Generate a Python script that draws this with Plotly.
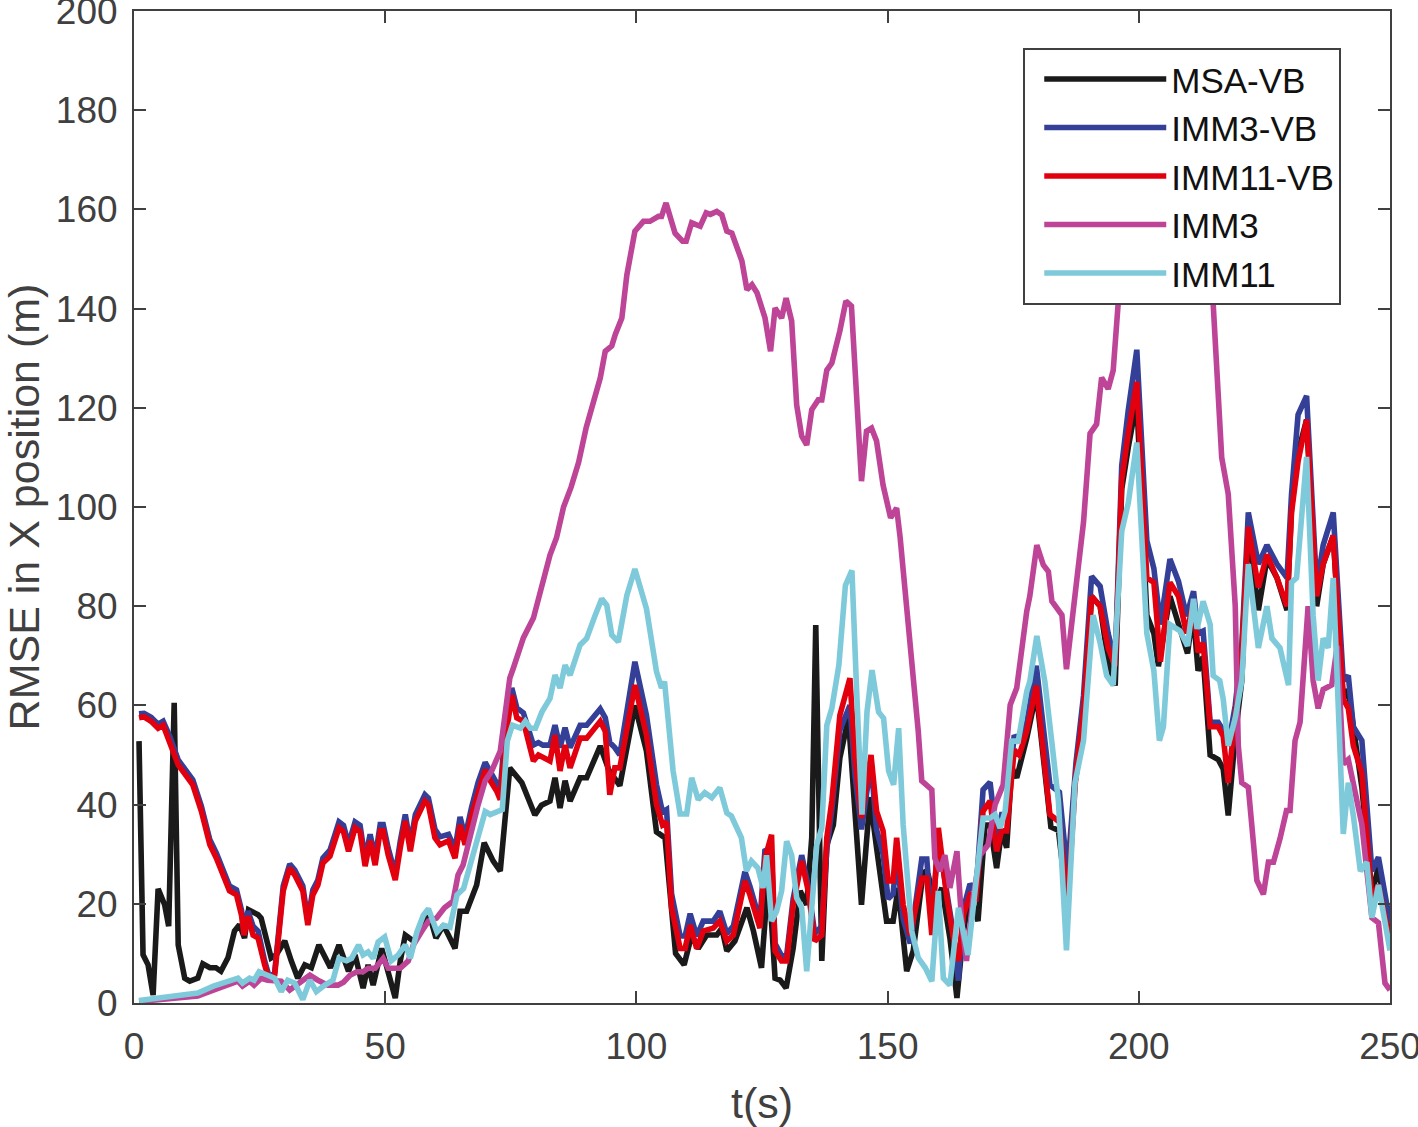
import plotly.graph_objects as go

# RMSE in X position vs time, five filters
# values (vertices of each polyline)

# MSA-VB
t_msa = [1, 1.8, 2.8, 3.8, 4.8, 6.1, 6.9, 8, 8.8, 10.1,
         11.1, 12.7, 13.7, 15.1, 16.3, 17.3, 18.7, 20, 21, 22,
         22.8, 24.7, 25.3, 27.3, 28.3, 30, 31.3, 32.6, 34, 35.3,
         36.8, 38, 39.1, 40.8, 42.7, 44, 45.6, 46.6, 47.6, 49.3,
         50.6, 52, 53, 54, 55.6, 57, 58.6, 60.1, 61.6, 63.9,
         64.9, 66.2, 68.2, 69.7, 71.5, 72.9, 74.8, 77.2, 79.8, 81.1,
         82.8, 83.8, 84.8, 85.8, 86.8, 88.8, 90.1, 92.8, 94.5, 96.7,
         99.7, 102, 104, 105.7, 107.8, 109.5, 111, 112.3, 114, 116,
         117, 118, 119.6, 122, 123.3, 124.9, 126.3, 127.6, 128.6, 129.8,
         131.2, 132.6, 133.9, 134.9, 135.7, 136.9, 137.9, 139.2, 140.5, 142.2,
         144.8, 146.5, 147.8, 149.8, 151.1, 152.1, 153.8, 155.1, 157.1, 158.1,
         159.4, 160.8, 162.4, 163.8, 165.1, 166.4, 168, 169.4, 170.4, 171.7,
         172.7, 173.7, 174.7, 175.7, 177.7, 179.6, 182.5, 184, 185.6, 187.3,
         189, 190.6, 192.3, 193.9, 195.3, 196.6, 197.9, 199.6, 201.6, 203,
         203.9, 206.2, 208.2, 209.7, 210.8, 211.8, 212.8, 214.2, 215.8, 216.8,
         217.8, 219.2, 220.5, 221.8, 223.8, 225.5, 227.5, 229.5, 230.4, 231.7,
         233.4, 235.4, 236.7, 238.7, 240.7, 241.7, 242.7, 244.4, 246.4, 247.7, 250]
msa_vb = [52.8, 9.7, 7.7, 1.6, 23, 19.8, 15.5, 60.5, 11.7, 5,
          4.4, 5, 7.9, 7.1, 7.1, 6.4, 9.1, 14.5, 15.8, 13.1,
          18.8, 17.8, 17.1, 9.1, 9.7, 12.5, 8.5, 5, 7.7, 7.1,
          11.7, 9.1, 7.1, 11.7, 6.4, 9.7, 3, 7.7, 3.6, 11,
          6.4, 1, 8.5, 13.7, 12.5, 14.5, 18.5, 13.1, 15.7, 11,
          18.5, 18.5, 23.8, 32.3, 28.6, 26.6, 47.4, 44.4, 37.9, 39.9,
          40.7, 45.4, 39.3, 44.8, 40.7, 45.4, 45.4, 51.8, 47, 43.8,
          60, 50.8, 34.5, 33.3, 10, 7.7, 13.7, 11, 13.7, 13.7,
          15.1, 10.5, 12.5, 19.2, 14.5, 7.1, 26, 5, 4.6, 3,
          11, 22.6, 19.8, 33.3, 76.2, 8.5, 31.9, 35.9, 49.4, 57.5,
          19.8, 41.5, 31.3, 16.5, 16.5, 23.2, 6.4, 10.5, 26.6, 25.8,
          19.8, 23.2, 13.1, 1, 14.5, 21.8, 16.5, 35.9, 35.9, 27.2,
          34.7, 31.3, 47.5, 45.4, 53.4, 62.5, 35.5, 34.8, 21, 44.4,
          55.7, 82, 80, 68.8, 64, 103.6, 112, 121.4, 78.2, 74.5,
          67.9, 82, 75.4, 70.5, 79, 67, 69.8, 50, 49.1, 47.2,
          37.8, 53.8, 65, 96, 79.2, 89.5, 85.7, 79.2, 99.8, 111,
          117.6, 80, 88.5, 94.2, 61.3, 63.2, 55.7, 43.5, 21.9, 27.5, 12]

# IMM3-VB and IMM11-VB share the same time stamps
t_vb = [1, 2, 3.4, 4.8, 5.8, 7.1, 8.8, 10.4, 11.7, 13.4,
        15.1, 16.4, 17.7, 19, 20.4, 21.4, 21.9, 22.7, 23.7, 24.7,
        26, 27, 28, 29.7, 31, 32, 33.6, 34.6, 35.6, 36.6,
        37.6, 39, 40.8, 41.7, 42.7, 44, 45, 46, 47, 48,
        49, 49.6, 50.6, 52, 53, 54, 55, 56, 57.9, 58.6,
        59.9, 60.9, 62.6, 63.9, 64.9, 65.9, 67.2, 68.5, 69.9, 70.9,
        72.2, 72.9, 73.8, 75.2, 76.2, 77.5, 79.5, 80.5, 81.4, 82.8,
        83.8, 84.8, 85.8, 86.8, 88.8, 90.1, 92.8, 93.8, 94.7, 95.7,
        96.7, 99.7, 102, 104, 105.2, 106, 107, 108.7, 109.7, 110.7,
        112, 113.3, 115.3, 116.6, 118, 119.3, 121.6, 122.6, 124.6, 125.6,
        126.9, 127.6, 128.9, 129.9, 131.2, 132.9, 134.2, 135.5, 136.9, 137.9,
        138.9, 140.5, 142.5, 143.5, 144.8, 146.7, 147.8, 149.1, 150.1, 151.1,
        151.8, 153.1, 154.5, 156.8, 157.8, 158.8, 160.1, 161.8, 163.1, 164.1,
        165.1, 166.4, 167.6, 169, 170.4, 171.7, 172.7, 173.7, 175.2, 176.2,
        177.7, 179.6, 182.3, 184.2, 185.8, 187.5, 189, 190.6, 192.3, 193.9,
        195.3, 196.6, 197.9, 199.6, 201.6, 203, 204.3, 206.2, 207.9, 209.5,
        210.9, 211.8, 212.8, 214.2, 215.8, 216.8, 217.8, 219.2, 220.5, 221.8,
        223.8, 225.5, 227.5, 229.5, 230.4, 231.7, 233.4, 235.4, 236.7, 238.7,
        240.7, 241.7, 242.7, 244.4, 246.4, 247.7, 250]
imm3_vb = [58.3, 58.4, 57.6, 56.2, 56.8, 53.8, 49, 46.8, 45, 39.7,
           32.9, 30.2, 26.8, 23.6, 22.8, 18.7, 15, 18.5, 15.5, 14.5,
           8.5, 5, 6.2, 23.6, 28, 26.8, 23.6, 16.7, 22.8, 24.8,
           29.2, 30.8, 36.5, 35.8, 32, 36.5, 35.8, 29, 34, 29.2,
           36, 36, 31.2, 26, 32.6, 38, 32, 38, 42, 41.3,
           35, 33.5, 34, 31, 37.5, 33.5, 39.5, 44.5, 48.5, 46.5,
           44.5, 43, 54, 63.5, 59.5, 58.5, 52, 52.5, 52, 52,
           56, 51.5, 55.5, 51.5, 56, 56, 59.3, 57.5, 52.5, 51.5,
           50, 68.8, 58, 44, 38.5, 39, 22, 13.5, 13.5, 18,
           13.5, 16.5, 16.5, 18.5, 14, 15.5, 26.5, 23.5, 16.5, 31,
           30, 12, 9.5, 9.5, 21, 29.8, 23.5, 14, 15.5, 31,
           39, 55, 60, 46, 35, 48.5, 35, 30, 21, 22,
           30, 17, 12, 29, 29, 16, 33, 23, 14, 4.5,
           19, 24, 22.5, 43, 44.5, 33, 38, 38, 54, 52.5,
           56.5, 68, 44, 42.5, 26, 48.5, 62, 86, 84, 74.5,
           68.8, 108.3, 119.5, 131.7, 93.2, 87.6, 76.3, 89.5, 85, 78,
           83, 74.5, 75, 56.6, 56.6, 55, 51.9, 60, 72, 98.9,
           88.5, 92.3, 88.5, 85.7, 102.6, 118.6, 122.4, 83.8, 92.3, 98.9,
           65, 66, 55.7, 52.9, 26.6, 29.4, 16.2]
imm11_vb = [57.5, 57.7, 56.8, 55.4, 56, 52.8, 48, 45.8, 44, 38.7,
            31.9, 29.2, 25.8, 22.6, 21.8, 17.7, 13.7, 17.5, 13.7, 13.1,
            7.7, 4.4, 5.6, 22.6, 27.2, 25.8, 22.6, 15.7, 21.8, 23.8,
            28.2, 29.6, 35.3, 34.5, 30.6, 35.3, 34.5, 27.6, 32.7, 27.8,
            34.7, 34.7, 29.8, 24.8, 31.3, 36.7, 30.6, 36.7, 40.7, 40,
            33.3, 31.9, 32.7, 29.2, 35.9, 31.9, 37.9, 42.7, 47, 44.8,
            42.7, 41, 52, 62.1, 57.5, 56.8, 48.8, 50, 49.4, 48.8,
            54, 46.8, 52, 47.4, 53.4, 53.4, 56.8, 54.8, 42, 47.4,
            47.4, 64.1, 54, 40, 35.9, 36.5, 19.2, 11, 11, 15.7,
            11, 14.5, 15.1, 16.5, 12.5, 13.7, 24.6, 21.8, 15.1, 29.2,
            33.9, 10.5, 8.5, 8.5, 19.8, 28.6, 22.6, 12.5, 13.7, 33.3,
            40.7, 58, 65.5, 49.4, 37.3, 50, 38.7, 34.7, 24.6, 24.6,
            33.3, 19.8, 13.7, 25.2, 25.2, 13.7, 35.3, 21.2, 13.1, 8.5,
            17.7, 21.8, 21.2, 38.7, 40.7, 30.6, 34.7, 34.7, 51, 50,
            54.8, 64, 38, 36.5, 19.5, 46.5, 59.4, 82, 80, 71.6,
            67.9, 105.4, 114.8, 125.2, 85.7, 84.8, 68.8, 84.8, 82, 74.5,
            81, 70.7, 72.6, 55.7, 55.7, 53.8, 44.4, 58.5, 70.7, 96,
            83.8, 90.4, 85.7, 80, 98.9, 109.2, 117.6, 82, 88.5, 94.2,
            61.3, 59.4, 51.9, 46.3, 21, 23.8, 12.5]

# IMM3
t_imm3 = [1, 8.8, 12.7, 15.8, 18.7, 20.7, 21.6, 23, 23.9, 25.3,
          26.6, 28, 29.3, 31, 32.3, 34, 35, 36.6, 38.6, 40.6,
          41.7, 43, 44.4, 45.6, 46.6, 48, 49.6, 50.6, 53, 54.6,
          55.6, 57.3, 58.6, 60.2, 61.8, 63.5, 64.5, 65.5, 66.9, 68.5,
          69.9, 71.2, 72.9, 73.8, 74.8, 75.5, 77.5, 79.5, 81.5, 82.8,
          84.1, 85.5, 87, 88.5, 90, 91.5, 92.8, 93.8, 95.1, 95.8,
          97.1, 98.1, 99.7, 101.4, 102.7, 104.4, 105, 105.9, 107.7, 109.2,
          109.9, 111, 112.7, 113.9, 114.7, 116, 117, 118, 119, 121,
          122, 123, 124, 125.6, 126.7, 127.6, 128.9, 129.8, 130.9, 131.9,
          132.9, 133.9, 134.9, 136.2, 136.9, 137.9, 138.9, 140.5, 141.7, 142.8,
          143.8, 144.8, 145.8, 146.8, 147.8, 149.1, 150.6, 151.8, 152.5, 153.8,
          155.1, 156.1, 156.8, 158.8, 159.4, 160.4, 161.4, 162.4, 163.8, 164.8,
          165.7, 167, 168.4, 170, 171.4, 173, 174.4, 175.7, 177.7, 178.3,
          179.7, 181, 182, 182.7, 184.7, 185.6, 187.6, 189, 190.3, 191.6,
          192.6, 193.9, 194.9, 195.9, 198, 201, 204, 207, 210, 213,
          214.8, 216.5, 217.8, 219.2, 219.8, 220.5, 221.8, 223.5, 224.8, 225.8,
          226.8, 228.1, 229.4, 230.1, 231.1, 232.1, 233.7, 234.7, 235.7, 236.7,
          238.4, 239.5, 240.7, 241.7, 242.7, 244.4, 246.4, 247.7, 249, 250]
imm3 = [0.3, 1, 1.4, 2.6, 3.6, 4.4, 3.4, 4.4, 3.6, 5,
        4.6, 4.6, 4.4, 2.6, 3.6, 4.6, 5.6, 4.6, 3.6, 3.6,
        4.2, 5.6, 6.3, 6.3, 7, 7, 9, 7, 7, 8.5,
        11.7, 14.5, 16.5, 17.1, 19.2, 20.5, 25.8, 27.8, 33.9, 40,
        44.8, 46.8, 50.8, 57.5, 65.5, 67.5, 73.6, 77.6, 85.7, 90.3,
        93.8, 100, 104, 109, 116, 121, 126, 131.4, 132.5, 134.8,
        138.1, 146.8, 155.6, 157.6, 157.6, 158.6, 158.6, 161.3, 155.2, 153.6,
        153.6, 157.3, 156.6, 159.3, 159, 159.6, 158.9, 155.6, 155.2, 149.6,
        143.8, 144.8, 143.2, 138.1, 131.4, 140.1, 138.1, 142.1, 137.5, 120.6,
        114.3, 112.5, 119.6, 121.6, 121.6, 127.6, 129, 135.5, 141.5, 140.5,
        120.6, 105.2, 115.3, 115.9, 113.3, 104.4, 97.8, 99.8, 93.8, 80.3,
        66.9, 54.8, 44.8, 43, 29.2, 26.6, 29.8, 23.2, 30.6, 15.7,
        8.5, 21.2, 29.8, 31.9, 40, 44, 60.1, 63.5, 79, 82,
        92.3, 88.3, 87, 81, 78.2, 67.3, 84.8, 97, 114.8, 116.7,
        126.1, 123.8, 127.5, 141.1, 152, 160, 168, 172, 165, 152,
        141, 110, 102.6, 80, 51.9, 44.4, 43.5, 24.7, 21.9, 28.4,
        28.4, 33.1, 38.8, 38.8, 52.9, 56.6, 80, 65, 59.4, 63.2,
        64.1, 72, 48.2, 49.1, 44.4, 36, 17.2, 16.2, 4, 2.6]

# IMM11
t_imm11 = [1, 12.7, 15.8, 18.7, 20.7, 21.6, 23, 23.9, 24.9, 26.6,
           28, 29.3, 30.6, 32, 33.6, 35, 36.3, 38, 39.6, 40.8,
           42.3, 43.3, 44.7, 45.6, 46.6, 47.6, 48.6, 49.9, 51.2, 52.6,
           54, 55, 56.3, 57.6, 58.6, 60.3, 61.6, 62.9, 64.3, 65.6,
           66.9, 68.2, 69.9, 70.9, 72.2, 73.3, 74.3, 75.3, 76.9, 77.9,
           78.9, 79.9, 81.2, 82.8, 83.8, 84.8, 85.8, 86.8, 88.8, 90.1,
           91.8, 93.1, 94.1, 95.1, 96.4, 98.1, 99.7, 102, 104, 105,
           105.6, 107.3, 108.7, 110, 111, 112.3, 113.6, 115, 116.6, 118,
           118.9, 120.9, 121.9, 122.9, 124.2, 125.2, 125.9, 126.9, 127.9, 128.9,
           129.9, 130.9, 131.9, 132.9, 133.9, 134.9, 135.9, 136.9, 137.9, 138.9,
           140.3, 141.6, 142.9, 143.9, 144.9, 145.9, 146.9, 148.2, 149.2, 150.2,
           151.2, 152.2, 153.1, 154.8, 156.1, 157.5, 158.8, 160.1, 161.1, 162.4,
           164.1, 166, 167.7, 169, 170.4, 171.4, 172.4, 173.4, 174.7, 176,
           177.7, 178.3, 179.7, 181.3, 182.7, 184, 185.6, 187.3, 189, 190.9,
           192.3, 193.6, 194.9, 196.6, 197.9, 199.6, 201.6, 203, 204.1, 204.9,
           206.2, 208.2, 209.7, 210.9, 211.6, 212.8, 214.2, 214.8, 216.1, 216.8,
           217.8, 219.2, 220.5, 221.8, 223.8, 225.5, 226.5, 228.1, 229.8, 230.4,
           231.4, 233.4, 234.7, 235.7, 236.7, 237.7, 238.7, 239.7, 240.7, 241.7,
           242.7, 244.1, 245.4, 246.4, 247.7, 250]
imm11 = [0.5, 2, 3.4, 4.4, 5, 4, 5, 4.6, 6.3, 5.6,
         5, 2.3, 4.6, 4, 0.7, 4.6, 2.3, 3.6, 4.6, 9,
         8.5, 9, 11.7, 9.7, 10.3, 9, 12.3, 13.3, 8.5, 9.7,
         11.7, 9, 14.3, 17.7, 19, 14.3, 15.7, 15.3, 21.8, 23.1,
         27.8, 33.3, 38.6, 38, 38.6, 39, 52.8, 56, 55.4, 56.8,
         55.4, 55.4, 58.7, 61.4, 66.1, 63.5, 68.1, 66.1, 72.2, 73.5,
         78.2, 81.5, 80.2, 74.2, 72.8, 82.2, 87.5, 79.5, 66.8, 63.5,
         64.8, 46.8, 38.1, 38.1, 45.4, 41, 42.4, 41.4, 43.4, 38.3,
         37.7, 33.3, 26.6, 28.6, 27.2, 23.2, 29.8, 16.5, 18.5, 22.6,
         32.6, 29.8, 21.2, 19.2, 6.4, 19.8, 31.9, 35.3, 56, 59.4,
         68.1, 84.2, 87.2, 61.4, 38, 58.7, 67.1, 58.7, 57.4, 46.8,
         44, 55.4, 35.9, 14.5, 9.1, 7.1, 4.4, 22.6, 5, 3.6,
         19.2, 9.7, 24, 37.3, 37.3, 38, 35.3, 38.7, 52.8, 52.8,
         62.8, 64.8, 74, 64.8, 52.5, 40.7, 10.6, 44.4, 52.9, 78.2,
         72.6, 66, 64.1, 95.1, 100.8, 113, 74.5, 67, 52.9, 55.7,
         76.3, 75, 72, 81.5, 75.4, 81, 76.3, 66, 65, 61.3,
         51.9, 57.5, 65, 88.5, 71.6, 80, 73.5, 71.6, 64.1, 84.8,
         85.7, 110.1, 78.2, 65, 73.5, 71.6, 85.7, 61.3, 34.1, 44.4,
         37.8, 26.6, 28.4, 17.2, 23.8, 10.6]

x_ticks = [0, 50, 100, 150, 200, 250]
y_ticks = [0, 20, 40, 60, 80, 100, 120, 140, 160, 180, 200]

axis_col = '#404040'
font_name = 'Liberation Sans, Arial, sans-serif'
lw = 5.6

fig = go.Figure()
fig.add_trace(go.Scatter(x=t_msa, y=msa_vb, mode='lines', name='MSA-VB',
                         line=dict(color='#1a1a1a', width=lw)))
fig.add_trace(go.Scatter(x=t_vb, y=imm3_vb, mode='lines', name='IMM3-VB',
                         line=dict(color='#343f98', width=lw)))
fig.add_trace(go.Scatter(x=t_vb, y=imm11_vb, mode='lines', name='IMM11-VB',
                         line=dict(color='#e2000f', width=lw)))
fig.add_trace(go.Scatter(x=t_imm3, y=imm3, mode='lines', name='IMM3',
                         line=dict(color='#bd4496', width=lw)))
fig.add_trace(go.Scatter(x=t_imm11, y=imm11, mode='lines', name='IMM11',
                         line=dict(color='#7ecada', width=lw)))

fig.update_layout(
    width=1418, height=1127,
    margin=dict(l=134, r=28, t=11, b=124, autoexpand=False),
    paper_bgcolor='white', plot_bgcolor='white',
    font=dict(family=font_name, size=37, color=axis_col),
    legend=dict(x=0.708, y=0.963, xanchor='left', yanchor='top',
                bgcolor='white', bordercolor=axis_col, borderwidth=2,
                font=dict(size=35, color='#111111'), itemwidth=122,
                indentation=14, tracegroupgap=0),
    showlegend=True,
)
fig.update_xaxes(range=[0, 250], tickvals=x_ticks, showgrid=False, zeroline=False,
                 showline=True, linecolor=axis_col, linewidth=2, mirror='ticks',
                 ticks='inside', ticklen=12, tickwidth=2, tickcolor=axis_col,
                 ticklabelstandoff=10, ticklabeloverflow='allow', automargin=False,
                 title=dict(text='t(s)', font=dict(size=43), standoff=22))
fig.update_yaxes(range=[0, 200], tickvals=y_ticks, showgrid=False, zeroline=False,
                 showline=True, linecolor=axis_col, linewidth=2, mirror='ticks',
                 ticks='inside', ticklen=12, tickwidth=2, tickcolor=axis_col,
                 ticklabelstandoff=7, ticklabeloverflow='allow', automargin=False,
                 title=dict(text='RMSE in X position (m)', font=dict(size=43), standoff=24))

# page body has an 8px default margin; drop it so the figure sits at 0,0
fig.write_html("out.html", config={'displayModeBar': False},
               post_script="document.body.style.margin='0px';")
